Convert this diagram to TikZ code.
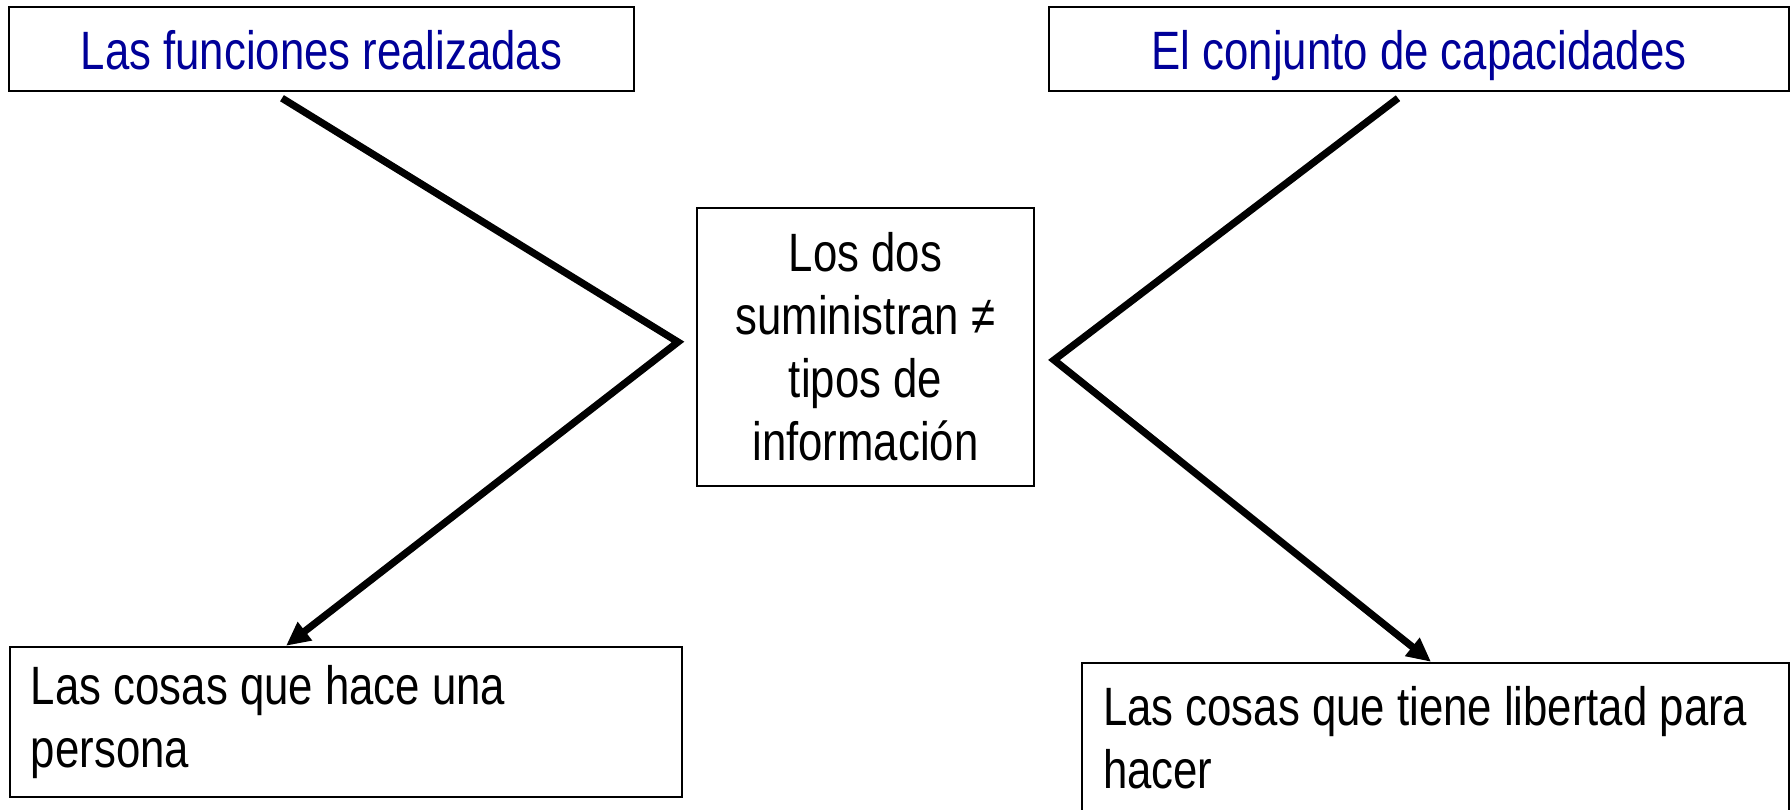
\documentclass[tikz,border=0pt]{standalone}
\usepackage{fontspec}
\setmainfont{Liberation Sans}[FakeStretch=0.81]
\usetikzlibrary{arrows.meta}
\definecolor{titleblue}{RGB}{0,0,153}
\begin{document}
\begin{tikzpicture}[x=0.5pt,y=-0.5pt,
    box/.style={draw,line width=1.2pt,inner sep=0pt,font=\fontsize{27}{31.5}\selectfont},
    title/.style={box,text=titleblue,minimum height=42pt,text height=20pt,text depth=0pt},
    note/.style={box,align=flush left,text width=#1,inner xsep=10.5pt,minimum height=75pt},
    link/.style={line width=3.6pt}]
  \useasboundingbox (0,0) rectangle (1792,809);
  % boxes
  \node[title,minimum width=312.5pt] (funciones) at (321.5,49) {Las funciones realizadas};
  \node[title,minimum width=370pt] (capacidades) at (1419,49) {El conjunto de capacidades};
  \node[box,align=center,minimum width=168.5pt,minimum height=139pt] (dos) at (865.5,347)
    {Los dos\\suministran ≠\\tipos de\\información};
  \node[note=315pt] (cosas) at (346,722) {Las cosas que hace una\\persona};
  \node[note=332.5pt] (libertad) at (1435.5,738) {Las cosas que tiene libertad para\\hacer};
  % connectors
  \coordinate (izq) at (678,342);
  \coordinate (der) at (1054,360);
  \draw[link,-{Triangle[length=12pt,width=11pt]}]
    ([xshift=-19.75pt,yshift=-3pt]funciones.south) -- (izq) -- ([xshift=-30pt]cosas.north);
  \draw[link,-{Triangle[length=12pt,width=11pt]}]
    ([xshift=-10.5pt,yshift=-3pt]capacidades.south) -- (der) -- ([xshift=-2.25pt]libertad.north);
\end{tikzpicture}
\end{document}
